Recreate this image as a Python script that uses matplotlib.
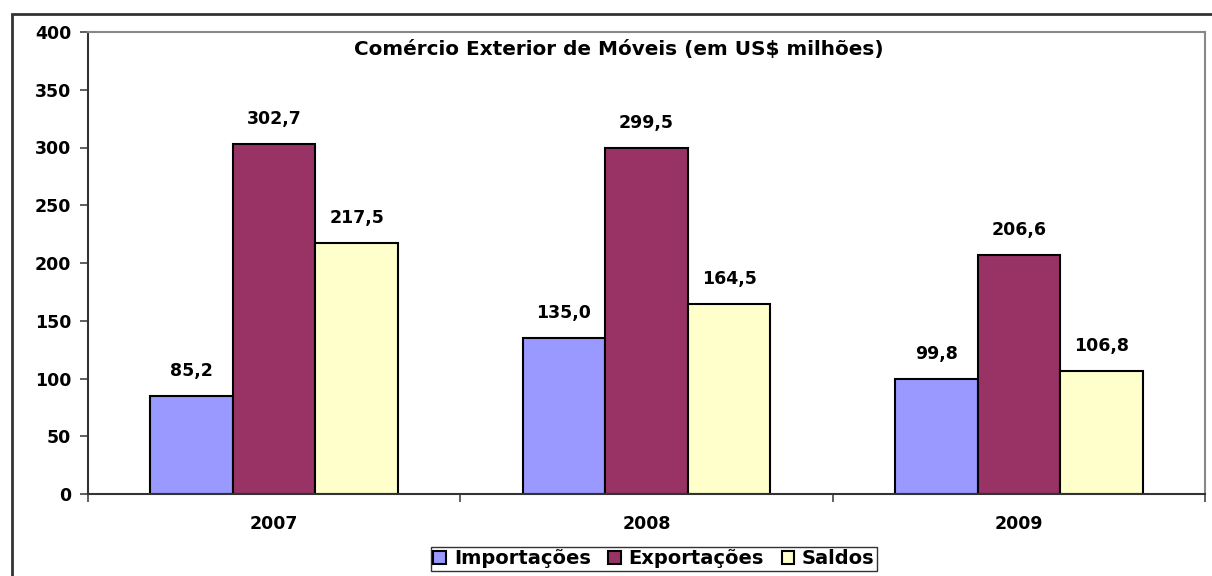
import matplotlib
matplotlib.use("Agg")
import matplotlib.pyplot as plt
import matplotlib.patches as mpatches
import numpy as np

plt.rcParams['font.family'] = ['DejaVu Sans']

years = ["2007", "2008", "2009"]
series_names = ["Importações", "Exportações", "Saldos"]
importacoes = [85.2, 135.0, 99.8]
exportacoes = [302.7, 299.5, 206.6]
saldos = [217.5, 164.5, 106.8]
colors = ["#9999FF", "#993366", "#FFFFCC"]
yticks = [0, 50, 100, 150, 200, 250, 300, 350, 400]
title = "Comércio Exterior de Móveis (em US$ milhões)"

fig = plt.figure(figsize=(12.12, 5.76), dpi=100)
W, H = 1212, 576
ax = fig.add_axes([88 / W, 1 - 494 / H, (1205 - 88) / W, (494 - 32) / H])

# outer frame
frame = mpatches.Rectangle((12 / W, -0.05), 1.1, 1 - 14 / H + 0.05, transform=fig.transFigure,
                           fill=False, edgecolor="#333333", linewidth=2.0, clip_on=False)
fig.add_artist(frame)

x = np.arange(len(years))
bw = 0.222
all_series = [importacoes, exportacoes, saldos]
for i, (vals, name, c) in enumerate(zip(all_series, series_names, colors)):
    pos = x + (i - 1) * bw
    ax.bar(pos, vals, width=bw, color=c, edgecolor="black", linewidth=1.5, label=name)
    for p, v in zip(pos, vals):
        ax.annotate(f"{v:.1f}".replace(".", ","), (p, v), xytext=(0, 18), textcoords="offset points",
                    ha="center", va="center", fontsize=12.5, fontweight="bold")

ax.set_xlim(-0.5, 2.5)
ax.set_ylim(0, 400)
ax.set_yticks(yticks)
ax.set_yticklabels([str(t) for t in yticks], fontsize=12.5, fontweight="bold")
ax.tick_params(axis='y', length=6, width=1.2, color="#444444", pad=6)

ax.set_xticks(x)
ax.set_xticklabels(years, fontsize=12.5, fontweight="bold")
ax.tick_params(axis='x', length=0, pad=15)
# boundary ticks on x axis
ax.set_xticks([-0.5, 0.5, 1.5, 2.5], minor=True)
ax.tick_params(axis='x', which='minor', length=6, width=1.2, color="#444444")

for s in ["left", "bottom"]:
    ax.spines[s].set_color("#333333")
    ax.spines[s].set_linewidth(1.5)
for s in ["top", "right"]:
    ax.spines[s].set_color("#888888")
    ax.spines[s].set_linewidth(1.5)

ax.text(0.475, 0.962, title, transform=ax.transAxes, ha="center", va="center",
        fontsize=14.4, fontweight="bold")

leg = fig.legend(loc="center", bbox_to_anchor=(654 / W, 1 - 559 / H), ncol=3,
                 prop={"size": 14, "weight": "bold"}, frameon=True, fancybox=False,
                 edgecolor="black", handlelength=0.65, handleheight=0.65, handletextpad=0.4,
                 columnspacing=0.9, borderpad=0.15, borderaxespad=0)
leg.get_frame().set_linewidth(1.0)
for h in leg.legend_handles:
    h.set_linewidth(1.5)

fig.savefig("out.png", dpi=100)
